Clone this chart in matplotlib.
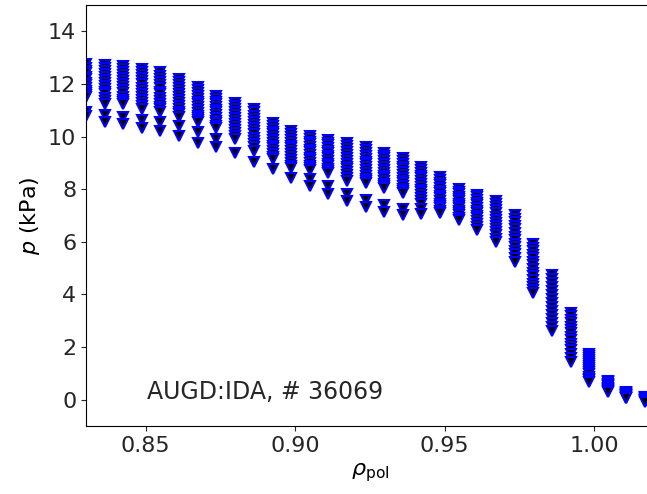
import numpy as np
import matplotlib
matplotlib.use('Agg')
import matplotlib.pyplot as plt

# rho_pol positions of the profile channels
rho_pol = [0.8300, 0.8362, 0.8425, 0.8487, 0.8549, 0.8612, 0.8674, 0.8736,
           0.8799, 0.8861, 0.8924, 0.8986, 0.9048, 0.9111, 0.9173, 0.9235,
           0.9298, 0.9360, 0.9422, 0.9485, 0.9547, 0.9609, 0.9672, 0.9734,
           0.9796, 0.9859, 0.9921, 0.9983, 1.0046, 1.0108, 1.0171]

# pressure (kPa) of all time slices at each channel
p_kpa = [
    [12.74, 12.62, 12.51, 12.4, 12.27, 12.18, 12.05, 11.96, 11.84, 11.75, 11.66, 11.57, 11.49, 10.92, 10.79],
    [12.73, 12.6, 12.5, 12.38, 12.27, 12.15, 12.05, 11.93, 11.82, 11.7, 11.6, 11.48, 11.36, 11.25, 10.83, 10.57],
    [12.69, 12.57, 12.45, 12.33, 12.22, 12.1, 11.98, 11.87, 11.76, 11.64, 11.52, 11.4, 11.32, 11.25, 10.76, 10.49],
    [12.58, 12.46, 12.33, 12.22, 12.1, 11.98, 11.86, 11.74, 11.61, 11.5, 11.38, 11.26, 11.15, 11.06, 10.64, 10.34],
    [12.44, 12.31, 12.2, 12.08, 11.96, 11.84, 11.71, 11.6, 11.48, 11.36, 11.24, 11.13, 11.03, 10.94, 10.57, 10.23],
    [12.19, 12.07, 11.96, 11.84, 11.72, 11.61, 11.49, 11.38, 11.26, 11.15, 11.04, 10.94, 10.85, 10.76, 10.42, 10.04],
    [11.88, 11.77, 11.66, 11.55, 11.44, 11.33, 11.22, 11.11, 11.0, 10.9, 10.8, 10.71, 10.64, 10.57, 10.19, 9.77],
    [11.53, 11.43, 11.32, 11.22, 11.12, 11.02, 10.92, 10.82, 10.71, 10.61, 10.5, 10.42, 10.34, 9.92, 9.62],
    [11.27, 11.16, 11.04, 10.93, 10.82, 10.71, 10.6, 10.48, 10.37, 10.25, 10.13, 10.02, 9.92, 9.36],
    [11.04, 10.92, 10.8, 10.68, 10.56, 10.44, 10.32, 10.2, 10.08, 9.96, 9.84, 9.71, 9.59, 9.47, 9.05],
    [10.51, 10.4, 10.3, 10.19, 10.08, 9.97, 9.87, 9.76, 9.65, 9.55, 9.44, 9.33, 9.23, 9.13, 8.75],
    [10.21, 10.1, 9.99, 9.88, 9.77, 9.66, 9.55, 9.44, 9.33, 9.22, 9.11, 9.0, 8.89, 8.79, 8.41],
    [10.02, 9.92, 9.81, 9.71, 9.61, 9.5, 9.4, 9.3, 9.2, 9.1, 9.0, 8.9, 8.81, 8.72, 8.37, 8.11],
    [9.87, 9.77, 9.67, 9.57, 9.47, 9.37, 9.27, 9.17, 9.07, 8.97, 8.87, 8.77, 8.68, 8.6, 8.11, 7.81],
    [9.74, 9.63, 9.52, 9.41, 9.3, 9.19, 9.08, 8.97, 8.86, 8.75, 8.64, 8.53, 8.43, 8.33, 7.81, 7.55],
    [9.6, 9.49, 9.38, 9.27, 9.16, 9.05, 8.94, 8.83, 8.72, 8.61, 8.5, 8.4, 8.31, 8.22, 7.59, 7.32],
    [9.39, 9.28, 9.17, 9.06, 8.96, 8.85, 8.74, 8.63, 8.52, 8.42, 8.31, 8.2, 8.11, 8.03, 7.4, 7.13],
    [9.17, 9.06, 8.96, 8.85, 8.75, 8.64, 8.54, 8.43, 8.33, 8.23, 8.12, 8.02, 7.93, 7.84, 7.26, 7.03],
    [8.85, 8.74, 8.63, 8.52, 8.42, 8.31, 8.2, 8.09, 7.98, 7.88, 7.77, 7.66, 7.56, 7.45, 7.25, 7.06],
    [8.45, 8.35, 8.25, 8.15, 8.05, 7.95, 7.85, 7.75, 7.65, 7.55, 7.45, 7.36, 7.27, 7.18, 7.09],
    [7.99, 7.9, 7.81, 7.72, 7.63, 7.54, 7.45, 7.36, 7.27, 7.18, 7.09, 7.0, 6.91, 6.82],
    [7.79, 7.69, 7.59, 7.49, 7.39, 7.29, 7.19, 7.09, 6.99, 6.89, 6.79, 6.68, 6.56, 6.44],
    [7.56, 7.44, 7.32, 7.2, 7.08, 6.96, 6.84, 6.72, 6.6, 6.48, 6.36, 6.24, 6.11, 5.99],
    [7.01, 6.87, 6.74, 6.6, 6.47, 6.34, 6.2, 6.07, 5.93, 5.8, 5.66, 5.52, 5.38, 5.23],
    [5.91, 5.78, 5.64, 5.5, 5.37, 5.23, 5.1, 4.96, 4.82, 4.69, 4.55, 4.41, 4.27, 4.16, 4.06],
    [4.74, 4.58, 4.43, 4.28, 4.12, 3.97, 3.82, 3.67, 3.52, 3.37, 3.22, 3.07, 2.92, 2.77, 2.62],
    [3.30, 3.17, 3.04, 2.91, 2.78, 2.65, 2.52, 2.39, 2.26, 2.13, 2.0, 1.87, 1.73, 1.59, 1.45],
    [1.75, 1.67, 1.6, 1.52, 1.44, 1.36, 1.28, 1.2, 1.12, 1.04, 0.96, 0.88, 0.8, 0.74, 0.69],
    [0.71, 0.66, 0.61, 0.56, 0.51, 0.46, 0.41, 0.36, 0.32, 0.28],
    [0.28, 0.25, 0.22, 0.19, 0.16, 0.13, 0.1, 0.07, 0.05],
    [0.12, 0.09, 0.06, 0.03, 0.0, -0.03, -0.06, -0.1],
]

x_ticks = [0.85, 0.90, 0.95, 1.00]
y_ticks = [0, 2, 4, 6, 8, 10, 12, 14]
shot_label = 'AUGD:IDA, # 36069'

plt.rcParams['font.size'] = 16
plt.rcParams['text.color'] = '.15'
plt.rcParams['xtick.color'] = '.15'
plt.rcParams['ytick.color'] = '.15'

fig = plt.figure(figsize=(6.47, 4.94), dpi=100)
# axes run slightly past the right border, as in the cropped original
ax = fig.add_axes([86 / 647, 68 / 494, 568 / 647, 421 / 494])

for rho, p in zip(rho_pol, p_kpa):
    ax.plot(np.full(len(p), rho), p, linestyle='none', marker='v',
            ms=6.5, mfc='k', mec='b', mew=1.5)

ax.set_xlim(0.83, 1.02)
ax.set_ylim(-1, 15)
ax.set_xticks(x_ticks)
ax.set_yticks(y_ticks)
ax.set_xticklabels(['%.2f' % t for t in x_ticks])
ax.set_xlabel(r'$\rho_\mathrm{pol}$')
ax.set_ylabel(r'$p$ (kPa)')
ax.text(0.107, 0.08, shot_label, transform=ax.transAxes, va='center',
        fontsize=17)

fig.savefig('out.png', dpi=100)
